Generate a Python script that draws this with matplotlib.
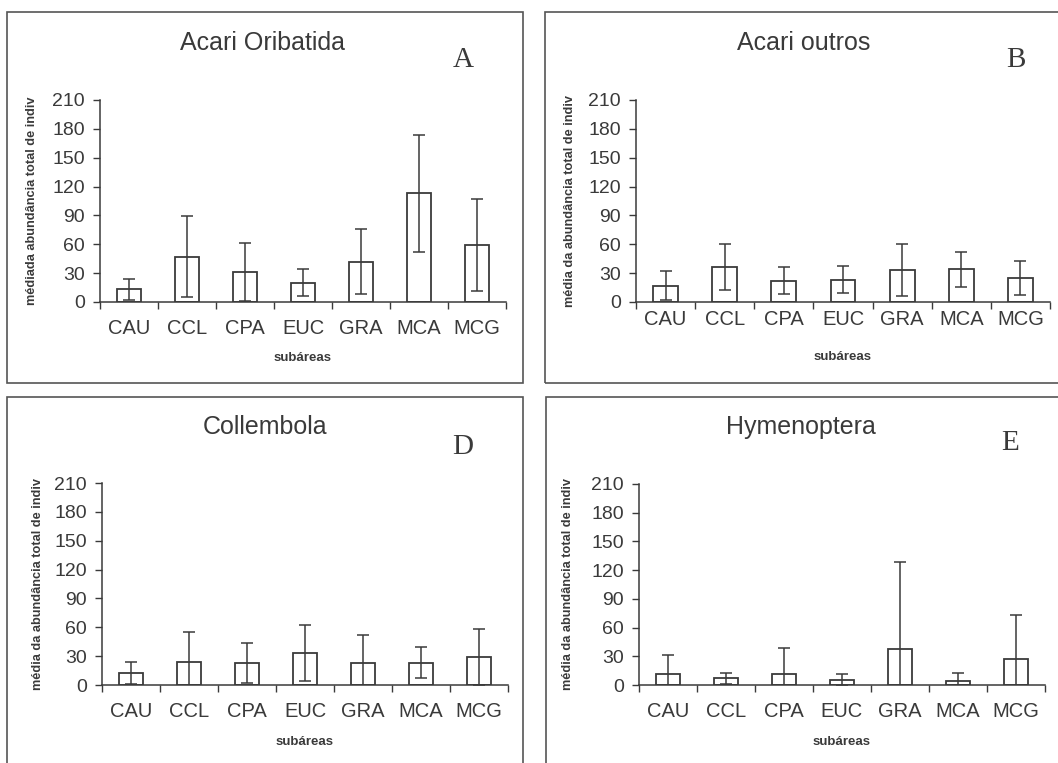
import numpy as np
import matplotlib
matplotlib.use("Agg")
import matplotlib.pyplot as plt
from matplotlib.patches import Rectangle
from matplotlib.ticker import FixedLocator

W, H = 1058, 763

subareas = ["CAU", "CCL", "CPA", "EUC", "GRA", "MCA", "MCG"]

oribatida = [13, 47, 31, 20, 42, 113, 59]
oribatida_err = [11, 42, 30, 14, 34, 61, 48]

acari_outros = [17, 36, 22, 23, 33, 34, 25]
acari_outros_err = [15, 24, 14, 14, 27, 18, 18]

collembola = [12.5, 24, 23, 33, 23, 23, 29]
collembola_err = [11, 31, 21, 29, 29, 16, 29]

hymenoptera = [11, 7, 12, 5, 38, 4, 27]
hymenoptera_err = [20, 6, 27, 6, 91, 9, 46]

yticks = [0, 30, 60, 90, 120, 150, 180, 210]

ink = "#3a3a3a"
plt.rcParams["font.family"] = ["Liberation Sans", "DejaVu Sans"]

fig = plt.figure(figsize=(W / 100, H / 100), dpi=100)
fig.patch.set_facecolor("white")


def fx(x):
    return x / W


def fy(y):
    return 1 - y / H


# molduras
for (x0, y0, x1, y1) in [(7, 12, 523, 383), (545, 12, 1070, 383),
                         (7, 397, 523, 780), (546, 397, 1070, 780)]:
    fig.patches.append(Rectangle((fx(x0), fy(y1)), fx(x1 - x0), (y1 - y0) / H,
                                 transform=fig.transFigure, fill=False,
                                 edgecolor="#555555", lw=1.2, clip_on=False))

paineis = [
    # valores, erros, titulo, letra, ylabel, eixo(px), titulo(px), letra(px), pad, ylab x, xlab y
    (oribatida, oribatida_err, "Acari Oribatida", "A", "médiada abundância total de indiv",
     (100, 100, 506, 302), (263, 43), (463, 60), 12, 32, 358),
    (acari_outros, acari_outros_err, "Acari outros", "B", "média da abundância total de indiv",
     (636, 100, 1050, 302), (804, 43), (1016, 60), 6, 570, 357),
    (collembola, collembola_err, "Collembola", "D", "média da abundância total de indiv",
     (102, 483, 508, 685), (265, 427), (463, 447), 12, 38, 742),
    (hymenoptera, hymenoptera_err, "Hymenoptera", "E", "média da abundância total de indiv",
     (639, 484, 1045, 685), (801, 427), (1010, 443), 12, 568, 742),
]

x = np.arange(len(subareas))

for vals, errs, titulo, letra, ylab, (x0, y0, x1, y1), tpos, lpos, pad, ylx, xly in paineis:
    ax = fig.add_axes([fx(x0), fy(y1), fx(x1 - x0), (y1 - y0) / H])
    ax.patch.set_alpha(0)
    ax.bar(x, vals, width=0.42, color="white", edgecolor=ink, lw=1.3, zorder=2)
    ax.errorbar(x, vals, yerr=errs, fmt="none", ecolor=ink, elinewidth=1.1,
                capsize=4.5, capthick=1.1, zorder=3)
    ax.set_xlim(-0.5, 6.5)
    ax.set_ylim(0, 210)
    ax.set_yticks(yticks)
    ax.set_xticks(x)
    ax.set_xticklabels(subareas)
    ax.xaxis.set_minor_locator(FixedLocator(np.arange(-0.5, 7, 1)))
    ax.tick_params(axis="x", which="major", length=0, pad=pad, labelsize=14.5, labelcolor=ink)
    ax.tick_params(axis="x", which="minor", length=5, direction="out", color=ink, width=1)
    ax.tick_params(axis="y", length=5, direction="out", color=ink, width=1,
                   labelsize=14, labelcolor=ink, pad=6)
    for s in ["top", "right"]:
        ax.spines[s].set_visible(False)
    for s in ["left", "bottom"]:
        ax.spines[s].set_color(ink)
        ax.spines[s].set_linewidth(1.1)
    ax.set_xlabel("subáreas", fontsize=9.5, fontweight="bold", color=ink, va="center")
    ax.xaxis.set_label_coords(0.5, (y1 - xly) / (y1 - y0))
    ax.set_ylabel(ylab, fontsize=9.2, fontweight="bold", color=ink, va="center")
    ax.yaxis.set_label_coords((ylx - x0) / (x1 - x0), 0.5)
    fig.text(fx(tpos[0]), fy(tpos[1]), titulo, fontsize=18, color=ink, ha="center", va="center")
    fig.text(fx(lpos[0]), fy(lpos[1]), letra, family="Liberation Serif", fontsize=21,
             color=ink, ha="center", va="center")

fig.savefig("out.png", dpi=100)
